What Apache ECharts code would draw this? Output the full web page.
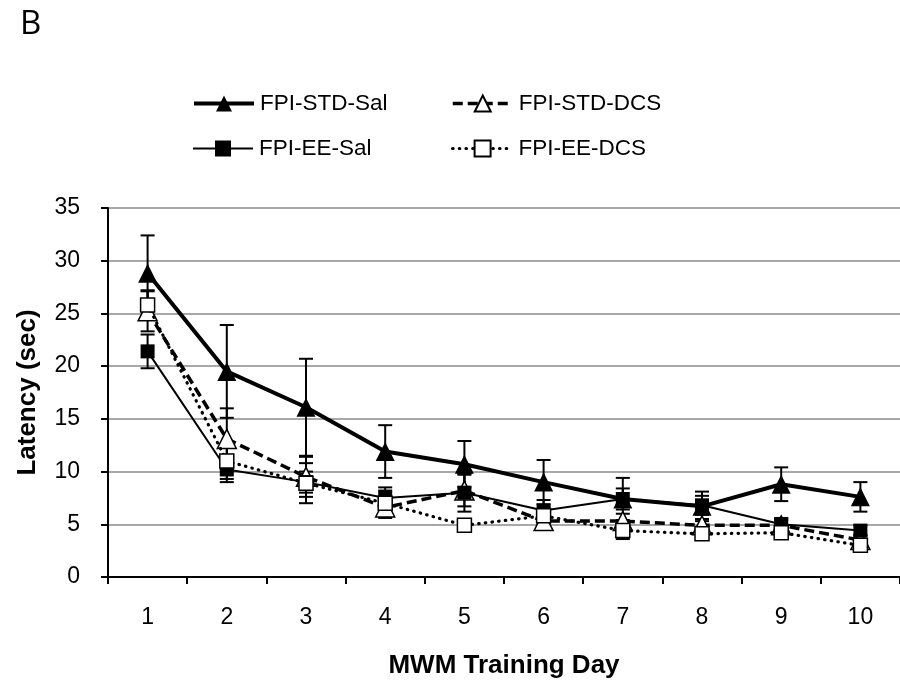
<!DOCTYPE html>
<html>
<head>
<meta charset="utf-8">
<script src="https://cdn.jsdelivr.net/npm/echarts@6/dist/echarts.min.js"></script>
<style>
  html, body { margin: 0; padding: 0; background: #fff; }
  #chart { width: 900px; height: 684px; }
</style>
</head>
<body>
<div id="chart"></div>
<script>
// Water maze latency by training day, mean ± SEM
const days = ['1', '2', '3', '4', '5', '6', '7', '8', '9', '10'];
const yTicks = [0, 5, 10, 15, 20, 25, 30, 35];

const stdSal    = [28.8, 19.5, 16.1, 11.9, 10.7, 9.0, 7.4, 6.7, 8.8, 7.6];
const stdSalErr = [3.6, 4.4, 4.6, 2.5, 2.2, 2.1, 2.0, 1.4, 1.6, 1.4];
const stdDcs    = [25.2, 13.1, 9.5, 6.6, 8.2, 5.3, 5.3, 4.9, 4.9, 3.5];
const stdDcsErr = [1.9, 2.9, 1.9, 1.0, 1.5, 0.8, 0.7, 0.6, 0.5, 0.5];
const eeSal     = [21.4, 10.2, 9.0, 7.5, 8.0, 6.3, 7.4, 6.8, 5.0, 4.4];
const eeSalErr  = [1.6, 1.2, 1.0, 1.0, 1.8, 1.0, 1.0, 0.9, 0.6, 0.5];
const eeDcs     = [25.8, 11.0, 8.9, 7.0, 4.9, 5.8, 4.4, 4.1, 4.2, 3.0];
const eeDcsErr  = [1.4, 1.7, 1.9, 1.2, 0.5, 0.7, 0.8, 0.5, 0.5, 0.5];

const groups = [
  { name: 'FPI-STD-Sal', mean: stdSal, err: stdSalErr, symbol: 'triangle', size: 19, fill: '#000',
    line: { width: 4, type: 'solid' } },
  { name: 'FPI-STD-DCS', mean: stdDcs, err: stdDcsErr, symbol: 'triangle', size: 19, fill: '#fff',
    line: { width: 3.5, type: [10, 5] } },
  { name: 'FPI-EE-Sal', mean: eeSal, err: eeSalErr, symbol: 'rect', size: 14, fill: '#000',
    line: { width: 2, type: 'solid' } },
  { name: 'FPI-EE-DCS', mean: eeDcs, err: eeDcsErr, symbol: 'rect', size: 14, fill: '#fff',
    line: { width: 3.2, type: [0.5, 6.2], cap: 'round' } }
];

const FONT = '"Liberation Sans", Arial, sans-serif';

function errorBarItem(params, api) {
  const x = api.value(0);
  const lo = api.coord([x, api.value(1) - api.value(2)]);
  const hi = api.coord([x, api.value(1) + api.value(2)]);
  const cap = 7;
  const style = { stroke: '#000', lineWidth: 2, fill: null };
  return {
    type: 'group',
    children: [
      { type: 'line', shape: { x1: hi[0], y1: hi[1], x2: lo[0], y2: lo[1] }, style },
      { type: 'line', shape: { x1: hi[0] - cap, y1: hi[1], x2: hi[0] + cap, y2: hi[1] }, style },
      { type: 'line', shape: { x1: lo[0] - cap, y1: lo[1], x2: lo[0] + cap, y2: lo[1] }, style }
    ]
  };
}

const series = [];
groups.forEach(function (g) {
  series.push({
    type: 'custom',
    name: g.name + ' SEM',
    renderItem: errorBarItem,
    data: g.mean.map(function (m, i) { return [i, m, g.err[i]]; }),
    encode: { x: 0, y: 1 },
    z: 2,
    silent: true
  });
});
groups.forEach(function (g, k) {
  series.push({
    type: 'line',
    name: g.name,
    data: g.mean,
    symbol: g.symbol,
    symbolSize: g.size,
    showAllSymbol: true,
    lineStyle: Object.assign({ color: '#000' }, g.line),
    itemStyle: { color: g.fill, borderColor: '#000', borderWidth: g.fill === '#fff' ? 1.5 : 0 },
    z: 3 + k,
    animation: false
  });
});

// Legend laid out as a 2 x 2 block
const legendPos = [
  { name: 'FPI-STD-Sal', left: 192, top: 92 },
  { name: 'FPI-STD-DCS', left: 451, top: 92 },
  { name: 'FPI-EE-Sal', left: 192, top: 137 },
  { name: 'FPI-EE-DCS', left: 451, top: 137 }
];
const legends = legendPos.map(function (p) {
  return {
    data: [p.name],
    left: p.left,
    top: p.top,
    padding: 0,
    itemWidth: 60,
    itemHeight: 20,
    itemGap: 0,
    lineStyle: { width: 'inherit' },
    textStyle: { fontFamily: FONT, fontSize: 22.5, color: '#000', padding: [0, 0, 0, 1] },
    selectedMode: false
  };
});

const chart = echarts.init(document.getElementById('chart'), null, { renderer: 'canvas' });
chart.setOption({
  animation: false,
  backgroundColor: '#fff',
  title: {
    text: 'B',
    left: 15,
    top: 3,
    textStyle: { fontFamily: '"Open Sans", "Noto Sans", sans-serif', fontSize: 33, fontWeight: 'normal', color: '#000' }
  },
  legend: legends,
  grid: { left: 108, right: 0, top: 208, bottom: 106 },
  xAxis: {
    type: 'category',
    data: days,
    boundaryGap: true,
    name: 'MWM Training Day',
    nameLocation: 'middle',
    nameGap: 76,
    nameTextStyle: { fontFamily: FONT, fontSize: 26, fontWeight: 'bold', color: '#000' },
    axisLine: { lineStyle: { color: '#000', width: 2 } },
    axisTick: { show: true, length: 7, interval: 0, lineStyle: { color: '#000', width: 2 } },
    axisLabel: { fontFamily: FONT, fontSize: 23, color: '#000', margin: 29, interval: 0 }
  },
  yAxis: {
    type: 'value',
    min: yTicks[0],
    max: yTicks[yTicks.length - 1],
    interval: yTicks[1] - yTicks[0],
    name: 'Latency (sec)',
    nameLocation: 'middle',
    nameGap: 67,
    nameRotate: 90,
    nameTextStyle: { fontFamily: FONT, fontSize: 26, fontWeight: 'bold', color: '#000' },
    axisLine: { show: true, lineStyle: { color: '#000', width: 2 } },
    axisTick: { show: true, length: 7, lineStyle: { color: '#000', width: 2 } },
    axisLabel: { fontFamily: FONT, fontSize: 23, color: '#000', margin: 28 },
    splitLine: { show: true, lineStyle: { color: '#a8a8a8', width: 2 } }
  },
  series: series
});
</script>
</body>
</html>
